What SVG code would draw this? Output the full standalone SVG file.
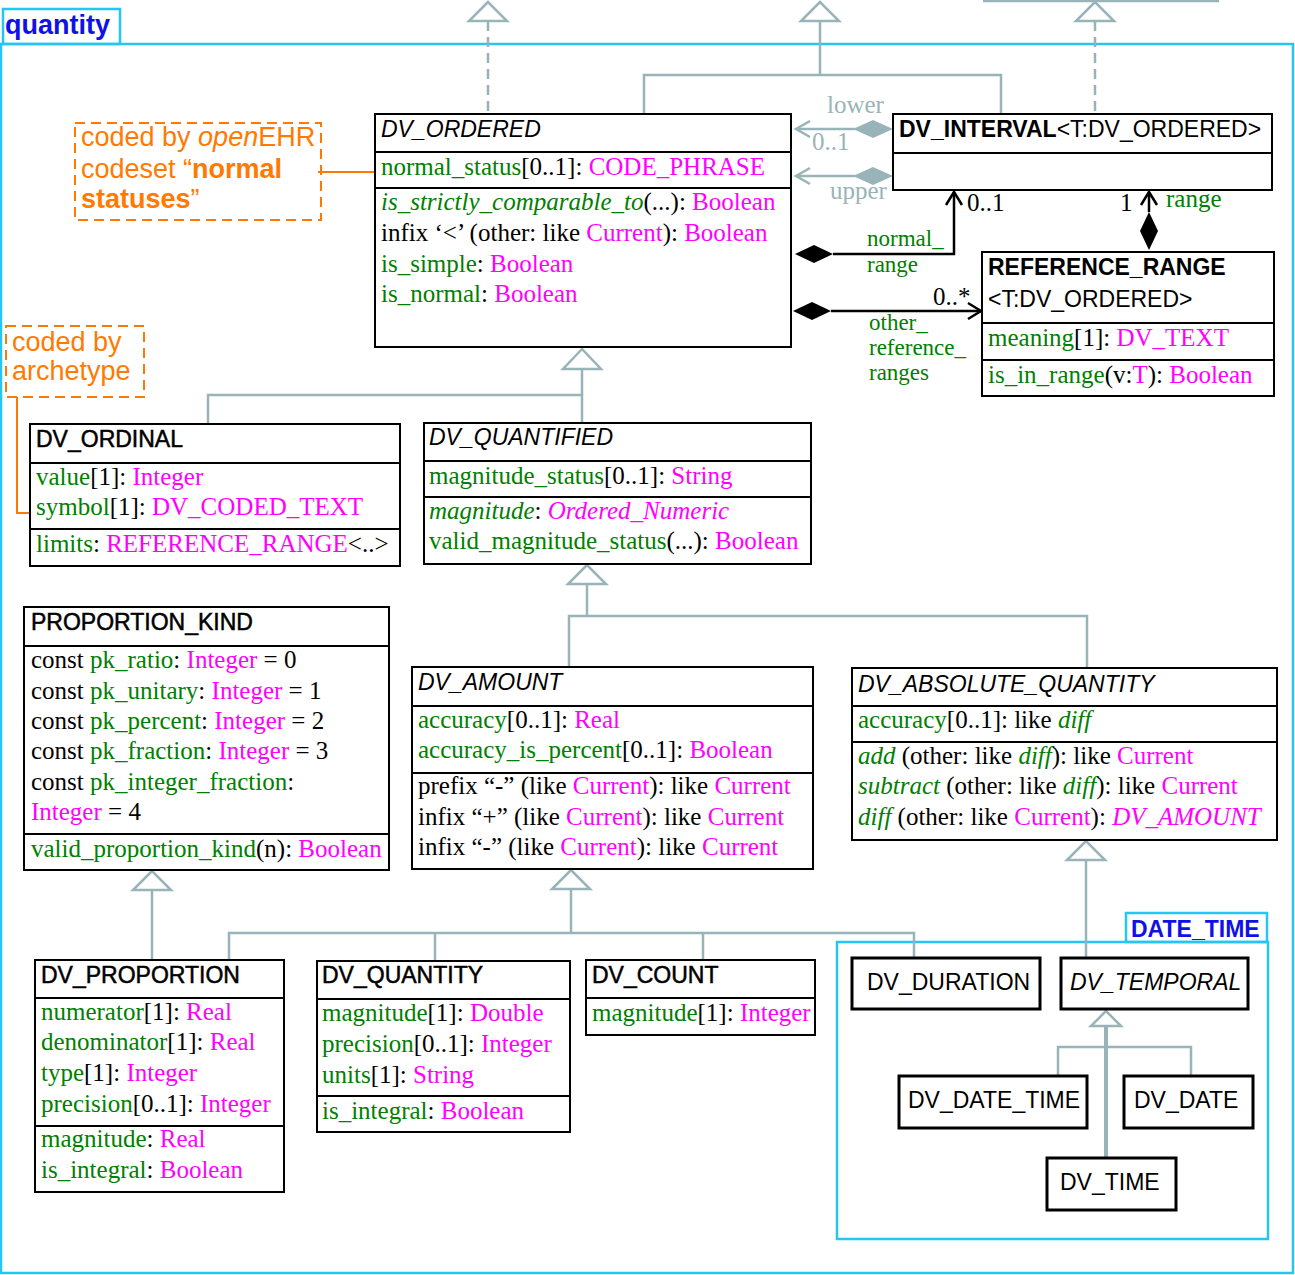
<svg xmlns="http://www.w3.org/2000/svg" width="1295" height="1275" viewBox="0 0 1295 1275">
<style>
.pkg{fill:none;stroke:#25c5f5;stroke-width:2.5}
.pl{font-family:"Liberation Sans",Arial,sans-serif;font-weight:bold;fill:#1010e8}
.box{fill:#fff;stroke:#000;stroke-width:2}
.tb{fill:#fff;stroke:#000;stroke-width:3}
.div{stroke:#000;stroke-width:2}
.t{font-family:"Liberation Sans",Arial,sans-serif;font-size:23px;fill:#000}
.i{font-style:italic}
.b{font-weight:bold}
.s{font-family:"Liberation Serif","Times New Roman",serif;font-size:25px;fill:#000}
.al{font-size:23px}
.g{fill:#008000}
.m{fill:#ff00ff}
.gr{fill:#99b4b8}
.gen{fill:none;stroke:#99b4b8;stroke-width:2.5}
.dash{stroke-dasharray:10,6}
.tri{fill:#fff;stroke:#99b4b8;stroke-width:2.5}
.asc{fill:none;stroke:#000;stroke-width:2.5}
.agr{fill:none;stroke:#99b4b8;stroke-width:2.5}
.note{fill:none;stroke:#ff7a00;stroke-width:2;stroke-dasharray:10,6}
.nt{font-family:"Liberation Sans",Arial,sans-serif;font-size:27px;fill:#ff7a00}
.nl{fill:none;stroke:#ff7a00;stroke-width:2}
</style>

<g id="pkg-quantity">
<rect class="pkg" x="3" y="9" width="117" height="35"/>
<rect class="pkg" x="1" y="44" width="1292" height="1229"/>
<text class="pl" x="5" y="34" font-size="27">quantity</text>
</g>

<g id="pkg-date-time">
<rect class="pkg" x="1126" y="913" width="141" height="29"/>
<rect class="pkg" x="837" y="942" width="431" height="297"/>
<text class="pl" x="1131" y="937" font-size="23">DATE_TIME</text>
</g>

<g id="connectors">
<!-- top inheritance -->
<polygon class="tri" points="488,2 469,21 507,21"/>
<line class="gen dash" x1="488" y1="21" x2="488" y2="114"/>
<polygon class="tri" points="820,2 801,21 839,21"/>
<polyline class="gen" points="820,21 820,75"/>
<polyline class="gen" points="644,114 644,75 1001,75 1001,114"/>
<polygon class="tri" points="1095,2 1076,21 1114,21"/>
<line class="gen dash" x1="1095" y1="21" x2="1095" y2="114"/>
<line class="gen" x1="983" y1="1" x2="1219" y2="1"/>

<!-- lower / upper -->
<line class="agr" x1="797" y1="129" x2="855" y2="129"/>
<polygon class="gr" points="893,129 873,120 853,129 873,138"/>
<polyline class="agr" points="810,121 796,129 810,137"/>
<line class="agr" x1="797" y1="176" x2="855" y2="176"/>
<polygon class="gr" points="893,176 873,167 853,176 873,185"/>
<polyline class="agr" points="810,168 796,176 810,184"/>
<text class="s gr" x="827" y="113">lower</text>
<text class="s gr" x="812" y="150">0..1</text>
<text class="s gr" x="830" y="199">upper</text>

<!-- normal_range -->
<polygon points="795,254 814,245 833,254 814,263" fill="#000"/>
<polyline class="asc" points="833,254 954,254 954,192"/>
<polyline class="asc" points="946,205 954,192 962,205"/>
<text class="s al g" x="867" y="246">normal_</text>
<text class="s al g" x="867" y="272">range</text>
<text class="s" x="967" y="211">0..1</text>

<!-- range -->
<polygon points="1149,212 1140,231 1149,250 1158,231" fill="#000"/>
<line class="asc" x1="1149" y1="212" x2="1149" y2="192"/>
<polyline class="asc" points="1141,205 1149,192 1157,205"/>
<text class="s" x="1120" y="211">1</text>
<text class="s g" x="1166" y="207">range</text>

<!-- other_reference_ranges -->
<polygon points="793,311 812,302 831,311 812,320" fill="#000"/>
<line class="asc" x1="831" y1="311" x2="981" y2="311"/>
<polyline class="asc" points="968,303 981,311 968,319"/>
<text class="s" x="933" y="305">0..*</text>
<text class="s al g" x="869" y="330">other_</text>
<text class="s al g" x="869" y="355">reference_</text>
<text class="s al g" x="869" y="380">ranges</text>

<!-- DV_ORDERED children -->
<polygon class="tri" points="582,349 563,369 601,369"/>
<line class="gen" x1="582" y1="369" x2="582" y2="395"/>
<polyline class="gen" points="208,424 208,395 582,395 582,423"/>

<!-- DV_QUANTIFIED children -->
<polygon class="tri" points="587,565 568,584 606,584"/>
<line class="gen" x1="587" y1="584" x2="587" y2="616"/>
<polyline class="gen" points="569,667 569,616 1087,616 1087,668"/>

<!-- PROPORTION_KIND -->
<polygon class="tri" points="152,871 133,890 171,890"/>
<line class="gen" x1="152" y1="890" x2="152" y2="960"/>

<!-- DV_AMOUNT children -->
<polygon class="tri" points="571,870 552,889 590,889"/>
<line class="gen" x1="571" y1="889" x2="571" y2="933"/>
<polyline class="gen" points="229,960 229,933 914,933 914,958"/>
<line class="gen" x1="435" y1="933" x2="435" y2="961"/>
<line class="gen" x1="703" y1="933" x2="703" y2="960"/>

<!-- DV_ABSOLUTE_QUANTITY children -->
<polygon class="tri" points="1086,841 1067,860 1105,860"/>
<line class="gen" x1="1086" y1="860" x2="1086" y2="958"/>

<!-- DV_TEMPORAL children -->
<polygon class="tri" points="1106,1011 1091,1026 1121,1026"/>
<line x1="1106" y1="1026" x2="1106" y2="1158" stroke="#99b4b8" stroke-width="4"/>
<polyline class="gen" points="1058,1076 1058,1047 1191,1047 1191,1076"/>

<!-- note links -->
<line class="nl" x1="318" y1="172" x2="377" y2="172"/>
<polyline class="nl" points="17,397 17,513 36,513"/>
</g>

<g id="note-normal-statuses">
<rect class="note" x="75" y="123" width="246" height="97"/>
<text class="nt" x="81" y="146">coded by <tspan font-style="italic">open</tspan>EHR</text>
<text class="nt" x="81" y="178">codeset “<tspan font-weight="bold">normal</tspan></text>
<text class="nt" x="81" y="208"><tspan font-weight="bold">statuses</tspan>”</text>
</g>

<g id="note-archetype">
<rect class="note" x="6" y="326" width="138" height="71"/>
<text class="nt" x="12" y="351">coded by</text>
<text class="nt" x="12" y="380">archetype</text>
</g>

<g id="DV_ORDERED">
<rect class="box" x="375" y="114" width="416" height="233"/>
<line class="div" x1="375" y1="152" x2="791" y2="152"/>
<line class="div" x1="375" y1="188" x2="791" y2="188"/>
<text class="t i" x="381" y="137">DV_ORDERED</text>
<text class="s" x="381" y="175"><tspan class="g">normal_status</tspan>[0..1]: <tspan class="m">CODE_PHRASE</tspan></text>
<text class="s" x="381" y="210"><tspan class="g" font-style="italic">is_strictly_comparable_to</tspan>(...): <tspan class="m">Boolean</tspan></text>
<text class="s" x="381" y="241">infix ‘&lt;’ (other: like <tspan class="m">Current</tspan>): <tspan class="m">Boolean</tspan></text>
<text class="s" x="381" y="272"><tspan class="g">is_simple</tspan>: <tspan class="m">Boolean</tspan></text>
<text class="s" x="381" y="302"><tspan class="g">is_normal</tspan>: <tspan class="m">Boolean</tspan></text>
</g>

<g id="DV_INTERVAL">
<rect class="box" x="893" y="114" width="379" height="76"/>
<line class="div" x1="893" y1="153" x2="1272" y2="153"/>
<text class="t" x="899" y="137"><tspan class="b">DV_INTERVAL</tspan>&lt;T:DV_ORDERED&gt;</text>
</g>

<g id="REFERENCE_RANGE">
<rect class="box" x="982" y="252" width="292" height="144"/>
<line class="div" x1="982" y1="323" x2="1274" y2="323"/>
<line class="div" x1="982" y1="360" x2="1274" y2="360"/>
<text class="t b" x="988" y="275">REFERENCE_RANGE</text>
<text class="t" x="988" y="307">&lt;T:DV_ORDERED&gt;</text>
<text class="s" x="988" y="346"><tspan class="g">meaning</tspan>[1]: <tspan class="m">DV_TEXT</tspan></text>
<text class="s" x="988" y="383"><tspan class="g">is_in_range</tspan>(v:<tspan class="m">T</tspan>): <tspan class="m">Boolean</tspan></text>
</g>

<g id="DV_ORDINAL">
<rect class="box" x="30" y="424" width="370" height="142"/>
<line class="div" x1="30" y1="463" x2="400" y2="463"/>
<line class="div" x1="30" y1="529" x2="400" y2="529"/>
<text class="t" x="36" y="447" stroke="#000" stroke-width="0.5">DV_ORDINAL</text>
<text class="s" x="36" y="485"><tspan class="g">value</tspan>[1]: <tspan class="m">Integer</tspan></text>
<text class="s" x="36" y="515"><tspan class="g">symbol</tspan>[1]: <tspan class="m">DV_CODED_TEXT</tspan></text>
<text class="s" x="36" y="552"><tspan class="g">limits</tspan>: <tspan class="m">REFERENCE_RANGE</tspan>&lt;..&gt;</text>
</g>

<g id="DV_QUANTIFIED">
<rect class="box" x="424" y="423" width="387" height="141"/>
<line class="div" x1="424" y1="461" x2="811" y2="461"/>
<line class="div" x1="424" y1="497" x2="811" y2="497"/>
<text class="t i" x="429" y="445">DV_QUANTIFIED</text>
<text class="s" x="429" y="484"><tspan class="g">magnitude_status</tspan>[0..1]: <tspan class="m">String</tspan></text>
<text class="s" x="429" y="519"><tspan class="g" font-style="italic">magnitude</tspan>: <tspan class="m" font-style="italic">Ordered_Numeric</tspan></text>
<text class="s" x="429" y="549"><tspan class="g">valid_magnitude_status</tspan>(...): <tspan class="m">Boolean</tspan></text>
</g>

<g id="PROPORTION_KIND">
<rect class="box" x="24" y="607" width="365" height="263"/>
<line class="div" x1="24" y1="646" x2="389" y2="646"/>
<line class="div" x1="24" y1="834" x2="389" y2="834"/>
<text class="t" x="31" y="630" stroke="#000" stroke-width="0.5">PROPORTION_KIND</text>
<text class="s" x="31" y="668">const <tspan class="g">pk_ratio</tspan>: <tspan class="m">Integer</tspan> = 0</text>
<text class="s" x="31" y="699">const <tspan class="g">pk_unitary</tspan>: <tspan class="m">Integer</tspan> = 1</text>
<text class="s" x="31" y="729">const <tspan class="g">pk_percent</tspan>: <tspan class="m">Integer</tspan> = 2</text>
<text class="s" x="31" y="759">const <tspan class="g">pk_fraction</tspan>: <tspan class="m">Integer</tspan> = 3</text>
<text class="s" x="31" y="790">const <tspan class="g">pk_integer_fraction</tspan>:</text>
<text class="s" x="31" y="820"><tspan class="m">Integer</tspan> = 4</text>
<text class="s" x="31" y="857"><tspan class="g">valid_proportion_kind</tspan>(n): <tspan class="m">Boolean</tspan></text>
</g>

<g id="DV_AMOUNT">
<rect class="box" x="412" y="667" width="401" height="202"/>
<line class="div" x1="412" y1="706" x2="813" y2="706"/>
<line class="div" x1="412" y1="773" x2="813" y2="773"/>
<text class="t i" x="418" y="690">DV_AMOUNT</text>
<text class="s" x="418" y="728"><tspan class="g">accuracy</tspan>[0..1]: <tspan class="m">Real</tspan></text>
<text class="s" x="418" y="758"><tspan class="g">accuracy_is_percent</tspan>[0..1]: <tspan class="m">Boolean</tspan></text>
<text class="s" x="418" y="794">prefix “-” (like <tspan class="m">Current</tspan>): like <tspan class="m">Current</tspan></text>
<text class="s" x="418" y="825">infix “+” (like <tspan class="m">Current</tspan>): like <tspan class="m">Current</tspan></text>
<text class="s" x="418" y="855">infix “-” (like <tspan class="m">Current</tspan>): like <tspan class="m">Current</tspan></text>
</g>

<g id="DV_ABSOLUTE_QUANTITY">
<rect class="box" x="852" y="668" width="425" height="172"/>
<line class="div" x1="852" y1="706" x2="1277" y2="706"/>
<line class="div" x1="852" y1="742" x2="1277" y2="742"/>
<text class="t i" x="858" y="692">DV_ABSOLUTE_QUANTITY</text>
<text class="s" x="858" y="728"><tspan class="g">accuracy</tspan>[0..1]: like <tspan class="g" font-style="italic">diff</tspan></text>
<text class="s" x="858" y="764"><tspan class="g" font-style="italic">add</tspan> (other: like <tspan class="g" font-style="italic">diff</tspan>): like <tspan class="m">Current</tspan></text>
<text class="s" x="858" y="794"><tspan class="g" font-style="italic">subtract</tspan> (other: like <tspan class="g" font-style="italic">diff</tspan>): like <tspan class="m">Current</tspan></text>
<text class="s" x="858" y="825"><tspan class="g" font-style="italic">diff</tspan> (other: like <tspan class="m">Current</tspan>): <tspan class="m" font-style="italic">DV_AMOUNT</tspan></text>
</g>

<g id="DV_PROPORTION">
<rect class="box" x="35" y="960" width="249" height="232"/>
<line class="div" x1="35" y1="998" x2="284" y2="998"/>
<line class="div" x1="35" y1="1126" x2="284" y2="1126"/>
<text class="t" x="41" y="983" stroke="#000" stroke-width="0.5">DV_PROPORTION</text>
<text class="s" x="41" y="1020"><tspan class="g">numerator</tspan>[1]: <tspan class="m">Real</tspan></text>
<text class="s" x="41" y="1050"><tspan class="g">denominator</tspan>[1]: <tspan class="m">Real</tspan></text>
<text class="s" x="41" y="1081"><tspan class="g">type</tspan>[1]: <tspan class="m">Integer</tspan></text>
<text class="s" x="41" y="1112"><tspan class="g">precision</tspan>[0..1]: <tspan class="m">Integer</tspan></text>
<text class="s" x="41" y="1147"><tspan class="g">magnitude</tspan>: <tspan class="m">Real</tspan></text>
<text class="s" x="41" y="1178"><tspan class="g">is_integral</tspan>: <tspan class="m">Boolean</tspan></text>
</g>

<g id="DV_QUANTITY">
<rect class="box" x="317" y="961" width="253" height="171"/>
<line class="div" x1="317" y1="999" x2="570" y2="999"/>
<line class="div" x1="317" y1="1096" x2="570" y2="1096"/>
<text class="t" x="322" y="983" stroke="#000" stroke-width="0.5">DV_QUANTITY</text>
<text class="s" x="322" y="1021"><tspan class="g">magnitude</tspan>[1]: <tspan class="m">Double</tspan></text>
<text class="s" x="322" y="1052"><tspan class="g">precision</tspan>[0..1]: <tspan class="m">Integer</tspan></text>
<text class="s" x="322" y="1083"><tspan class="g">units</tspan>[1]: <tspan class="m">String</tspan></text>
<text class="s" x="322" y="1119"><tspan class="g">is_integral</tspan>: <tspan class="m">Boolean</tspan></text>
</g>

<g id="DV_COUNT">
<rect class="box" x="586" y="960" width="229" height="75"/>
<line class="div" x1="586" y1="998" x2="815" y2="998"/>
<text class="t" x="592" y="983" stroke="#000" stroke-width="0.5">DV_COUNT</text>
<text class="s" x="592" y="1021"><tspan class="g">magnitude</tspan>[1]: <tspan class="m">Integer</tspan></text>
</g>

<g id="DV_DURATION">
<rect class="tb" x="852" y="958" width="188" height="51"/>
<text class="t" x="867" y="990">DV_DURATION</text>
</g>
<g id="DV_TEMPORAL">
<rect class="tb" x="1061" y="958" width="187" height="51"/>
<text class="t i" x="1070" y="990">DV_TEMPORAL</text>
</g>
<g id="DV_DATE_TIME">
<rect class="tb" x="899" y="1076" width="188" height="52"/>
<text class="t" x="908" y="1108">DV_DATE_TIME</text>
</g>
<g id="DV_DATE">
<rect class="tb" x="1124" y="1076" width="129" height="52"/>
<text class="t" x="1134" y="1108">DV_DATE</text>
</g>
<g id="DV_TIME">
<rect class="tb" x="1047" y="1158" width="129" height="52"/>
<text class="t" x="1060" y="1190">DV_TIME</text>
</g>
</svg>
